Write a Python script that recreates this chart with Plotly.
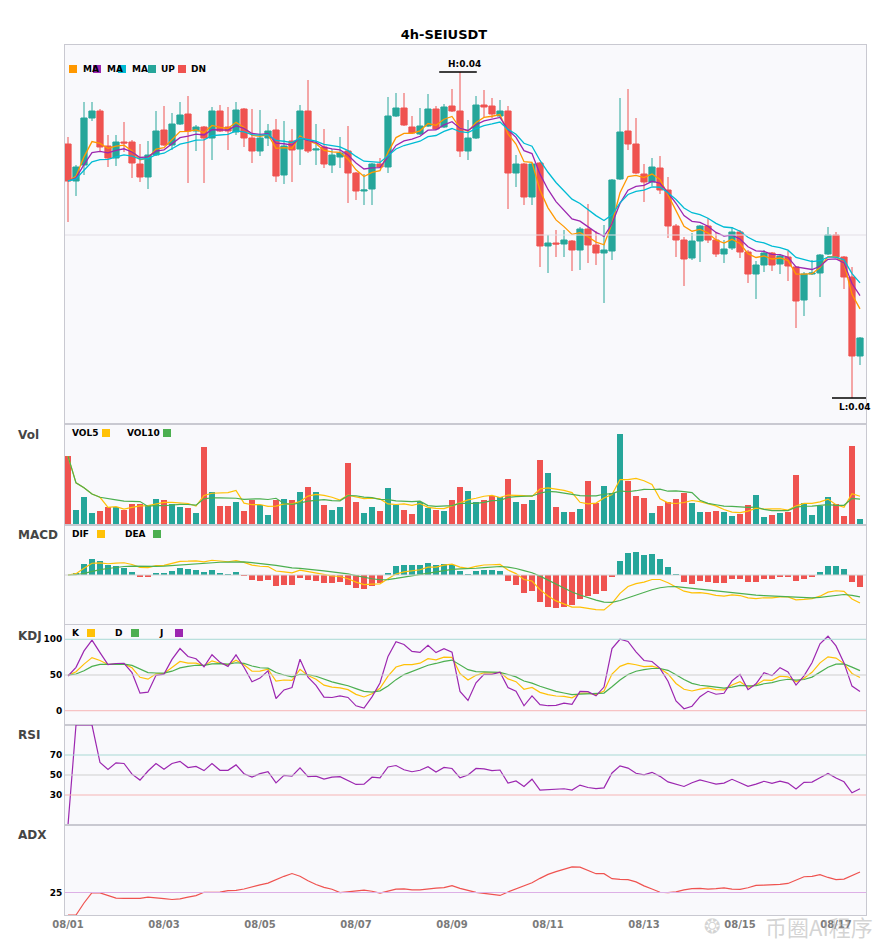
import numpy as np
import pandas as pd
import plotly.graph_objects as go
from plotly.subplots import make_subplots

symbol = "SEIUSDT"
interval = "4h"
start_time = "2024-08-01 00:00"

open_ = [0.04182, 0.04108, 0.04140, 0.04234, 0.04248, 0.04178, 0.04154, 0.04186, 0.04186, 0.04142,
         0.04116, 0.04160, 0.04210, 0.04180, 0.04222, 0.04242, 0.04208, 0.04216, 0.04194, 0.04248,
         0.04216, 0.04206, 0.04252, 0.04194, 0.04168, 0.04194, 0.04210, 0.04120, 0.04188, 0.04172,
         0.04248, 0.04170, 0.04176, 0.04140, 0.04156, 0.04168, 0.04124, 0.04088, 0.04092, 0.04142,
         0.04136, 0.04238, 0.04254, 0.04216, 0.04202, 0.04218, 0.04252, 0.04216, 0.04258, 0.04248,
         0.04168, 0.04194, 0.04260, 0.04258, 0.04238, 0.04248, 0.04124, 0.04142, 0.04076, 0.04144,
         0.03978, 0.03984, 0.03982, 0.03988, 0.03970, 0.04012, 0.03980, 0.03964, 0.03968, 0.04112,
         0.04208, 0.04182, 0.04122, 0.04106, 0.04134, 0.04090, 0.04018, 0.03990, 0.03954, 0.03988,
         0.04018, 0.03990, 0.03962, 0.03974, 0.04006, 0.03966, 0.03922, 0.03940, 0.03964, 0.03942,
         0.03956, 0.03936, 0.03870, 0.03922, 0.03924, 0.03962, 0.04000, 0.03956, 0.03916, 0.03758]
high = [0.04196, 0.04140, 0.04266, 0.04266, 0.04252, 0.04200, 0.04200, 0.04226, 0.04190, 0.04182,
        0.04188, 0.04248, 0.04258, 0.04244, 0.04266, 0.04278, 0.04220, 0.04218, 0.04256, 0.04260,
        0.04256, 0.04266, 0.04254, 0.04252, 0.04250, 0.04222, 0.04232, 0.04228, 0.04212, 0.04260,
        0.04310, 0.04222, 0.04212, 0.04172, 0.04196, 0.04218, 0.04126, 0.04122, 0.04144, 0.04154,
        0.04276, 0.04284, 0.04284, 0.04238, 0.04254, 0.04282, 0.04258, 0.04262, 0.04292, 0.04326,
        0.04230, 0.04278, 0.04290, 0.04274, 0.04270, 0.04258, 0.04160, 0.04144, 0.04144, 0.04146,
        0.04000, 0.04010, 0.04010, 0.03990, 0.04016, 0.04062, 0.04008, 0.04020, 0.04112, 0.04274,
        0.04292, 0.04234, 0.04142, 0.04154, 0.04158, 0.04116, 0.04022, 0.03996, 0.04004, 0.04020,
        0.04034, 0.04006, 0.03990, 0.04016, 0.04010, 0.03970, 0.03948, 0.03970, 0.03966, 0.03962,
        0.03968, 0.03938, 0.03926, 0.03950, 0.03962, 0.04016, 0.04006, 0.03958, 0.03936, 0.03796]
low = [0.04026, 0.04078, 0.04120, 0.04228, 0.04168, 0.04136, 0.04138, 0.04166, 0.04114, 0.04106,
       0.04092, 0.04158, 0.04178, 0.04170, 0.04220, 0.04104, 0.04168, 0.04104, 0.04150, 0.04206,
       0.04170, 0.04200, 0.04176, 0.04144, 0.04158, 0.04178, 0.04106, 0.04102, 0.04106, 0.04140,
       0.04164, 0.04140, 0.04134, 0.04124, 0.04134, 0.04064, 0.04070, 0.04060, 0.04060, 0.04134,
       0.04124, 0.04236, 0.04218, 0.04202, 0.04200, 0.04216, 0.04210, 0.04214, 0.04246, 0.04156,
       0.04150, 0.04192, 0.04236, 0.04234, 0.04234, 0.04052, 0.04096, 0.04060, 0.04060, 0.03936,
       0.03924, 0.03956, 0.03956, 0.03928, 0.03930, 0.03944, 0.03940, 0.03864, 0.03950, 0.04110,
       0.04170, 0.04122, 0.04066, 0.04098, 0.04082, 0.03994, 0.03956, 0.03898, 0.03950, 0.03946,
       0.03984, 0.03956, 0.03944, 0.03970, 0.03954, 0.03904, 0.03872, 0.03926, 0.03928, 0.03922,
       0.03908, 0.03814, 0.03838, 0.03920, 0.03876, 0.03960, 0.03954, 0.03892, 0.03674, 0.03740]
close = [0.04108, 0.04136, 0.04234, 0.04248, 0.04176, 0.04154, 0.04186, 0.04184, 0.04144, 0.04116,
         0.04160, 0.04208, 0.04180, 0.04222, 0.04240, 0.04208, 0.04216, 0.04194, 0.04248, 0.04208,
         0.04208, 0.04250, 0.04194, 0.04168, 0.04194, 0.04208, 0.04118, 0.04178, 0.04170, 0.04248,
         0.04168, 0.04172, 0.04142, 0.04160, 0.04164, 0.04124, 0.04088, 0.04090, 0.04142, 0.04136,
         0.04238, 0.04254, 0.04220, 0.04204, 0.04218, 0.04252, 0.04212, 0.04256, 0.04248, 0.04168,
         0.04194, 0.04260, 0.04256, 0.04242, 0.04248, 0.04124, 0.04142, 0.04076, 0.04142, 0.03978,
         0.03984, 0.03982, 0.03990, 0.03970, 0.04012, 0.03980, 0.03964, 0.03970, 0.04110, 0.04206,
         0.04182, 0.04124, 0.04106, 0.04136, 0.04090, 0.04018, 0.03990, 0.03952, 0.03988, 0.04018,
         0.03990, 0.03962, 0.03972, 0.04006, 0.03966, 0.03922, 0.03940, 0.03964, 0.03940, 0.03958,
         0.03938, 0.03868, 0.03922, 0.03924, 0.03960, 0.04000, 0.03956, 0.03916, 0.03758, 0.03794]
# volume in thousands
volume_k = [205, 46, 82, 37, 43, 55, 55, 46, 64, 64,
            61, 76, 73, 64, 55, 52, 37, 232, 97, 58,
            58, 70, 43, 73, 61, 31, 73, 76, 73, 97,
            112, 97, 61, 46, 55, 184, 70, 37, 55, 43,
            109, 61, 46, 34, 70, 52, 46, 43, 73, 112,
            100, 70, 73, 85, 82, 136, 70, 64, 73, 193,
            154, 55, 40, 40, 49, 130, 67, 115, 94, 271,
            130, 85, 79, 37, 58, 70, 76, 94, 67, 40,
            40, 43, 40, 28, 34, 61, 88, 25, 31, 37,
            40, 148, 67, 31, 58, 82, 64, 28, 235, 19]

UP = "#26a69a"
DN = "#ef5350"
C_MA = ["#ff9800", "#9c27b0", "#00bcd4"]
YEL = "#ffc107"
GRN = "#4caf50"
PUR = "#9c27b0"
FRAME = "#c9c9d1"

df = pd.DataFrame({"open": open_, "high": high, "low": low, "close": close, "volume": volume_k},
                  index=pd.date_range(start_time, periods=len(close), freq="4h"))
t = df.index
c = df["close"]
step = pd.Timedelta(hours=4)

# ---- indicators
mas = [c.ewm(span=n, adjust=False).mean() for n in (5, 8, 13)]
vol5 = df["volume"].rolling(5, min_periods=1).mean()
vol10 = df["volume"].rolling(10, min_periods=1).mean()

dif = c.ewm(span=12, adjust=False).mean() - c.ewm(span=26, adjust=False).mean()
dea = dif.ewm(span=9, adjust=False).mean()
macd = 2 * (dif - dea)

low9 = df["low"].rolling(9, min_periods=1).min()
high9 = df["high"].rolling(9, min_periods=1).max()
rsv = (c - low9) / (high9 - low9) * 100
k_list, d_list = [], []
k_prev = d_prev = 50.0
for r in rsv:
    k_prev = 2 / 3 * k_prev + r / 3
    d_prev = 2 / 3 * d_prev + k_prev / 3
    k_list.append(k_prev)
    d_list.append(d_prev)
kk = pd.Series(k_list, index=t)
dd = pd.Series(d_list, index=t)
jj = 3 * kk - 2 * dd

delta = c.diff()
gain = delta.clip(lower=0).ewm(alpha=1 / 14, adjust=True).mean()
loss = (-delta.clip(upper=0)).ewm(alpha=1 / 14, adjust=True).mean()
rsi = (100 * gain / (gain + loss)).fillna(0)

up_move = df["high"].diff()
down_move = -df["low"].diff()
plus_dm = pd.Series(np.where((up_move > down_move) & (up_move > 0), up_move, 0.0), index=t)
minus_dm = pd.Series(np.where((down_move > up_move) & (down_move > 0), down_move, 0.0), index=t)
tr = pd.concat([df["high"] - df["low"],
                (df["high"] - c.shift()).abs(),
                (df["low"] - c.shift()).abs()], axis=1).max(axis=1)
atr = tr.ewm(span=14, adjust=False).mean()
pdi = 100 * plus_dm.ewm(span=14, adjust=False).mean() / atr
mdi = 100 * minus_dm.ewm(span=14, adjust=False).mean() / atr
dx = ((pdi - mdi).abs() / (pdi + mdi) * 100).fillna(0)
adx = dx.ewm(span=14, adjust=False).mean()

bar_col = [UP if cl >= op else DN for op, cl in zip(df["open"], df["close"])]
macd_col = [UP if v >= 0 else DN for v in macd]
bar_w = step.total_seconds() * 1000 * 0.75

# ---- figure
fig = make_subplots(rows=6, cols=1, shared_xaxes=True, vertical_spacing=0,
                    row_heights=[379, 101, 100, 100, 100, 90])

fig.add_trace(go.Candlestick(
    x=t, open=df["open"], high=df["high"], low=df["low"], close=df["close"],
    increasing=dict(line=dict(color=UP, width=1), fillcolor=UP),
    decreasing=dict(line=dict(color=DN, width=1), fillcolor=DN),
    whiskerwidth=0, hoverinfo="skip"), row=1, col=1)
for s, col in zip(mas, C_MA):
    fig.add_trace(go.Scatter(x=t, y=s, mode="lines", line=dict(color=col, width=1.3)), row=1, col=1)

fig.add_trace(go.Bar(x=t, y=df["volume"], marker=dict(color=bar_col, line_width=0), width=bar_w), row=2, col=1)
fig.add_trace(go.Scatter(x=t, y=vol5, mode="lines", line=dict(color=YEL, width=1.2)), row=2, col=1)
fig.add_trace(go.Scatter(x=t, y=vol10, mode="lines", line=dict(color=GRN, width=1.2)), row=2, col=1)

fig.add_trace(go.Bar(x=t, y=macd, marker=dict(color=macd_col, line_width=0), width=bar_w), row=3, col=1)
fig.add_trace(go.Scatter(x=t, y=dif, mode="lines", line=dict(color=YEL, width=1.2)), row=3, col=1)
fig.add_trace(go.Scatter(x=t, y=dea, mode="lines", line=dict(color=GRN, width=1.2)), row=3, col=1)

fig.add_trace(go.Scatter(x=t, y=kk, mode="lines", line=dict(color=YEL, width=1.2)), row=4, col=1)
fig.add_trace(go.Scatter(x=t, y=dd, mode="lines", line=dict(color=GRN, width=1.2)), row=4, col=1)
fig.add_trace(go.Scatter(x=t, y=jj, mode="lines", line=dict(color=PUR, width=1.2)), row=4, col=1)

fig.add_trace(go.Scatter(x=t, y=rsi, mode="lines", line=dict(color=PUR, width=1.2)), row=5, col=1)
fig.add_trace(go.Scatter(x=t, y=adx, mode="lines", line=dict(color=DN, width=1.2)), row=6, col=1)

# reference lines
fig.add_hline(y=0.04, line=dict(color="#e3dfe6", width=1), row=1, col=1)
fig.add_hline(y=0, line=dict(color="#d6d6d6", width=1), row=3, col=1)
for row, lv in ((4, (100, 50, 0)), (5, (70, 50, 30))):
    for v, lc in zip(lv, ("#a9d9d4", "#cfcfcf", "#f6b5b5")):
        fig.add_hline(y=v, line=dict(color=lc, width=1), row=row, col=1)
fig.add_hline(y=25, line=dict(color="#ddb0e6", width=1), row=6, col=1)

# high / low markers
hi_i = int(np.argmax(df["high"].values))
lo_i = int(np.argmin(df["low"].values))
hi_v, lo_v = df["high"].iloc[hi_i], df["low"].iloc[lo_i]
fig.add_shape(type="line", xref="x", yref="y", x0=t[hi_i] - 2.6 * step, x1=t[hi_i] + 2.1 * step,
              y0=hi_v, y1=hi_v, line=dict(color="black", width=1.5))
fig.add_shape(type="line", xref="x", yref="y", x0=t[lo_i] - 2.5 * step, x1=t[lo_i] + 2.0 * step,
              y0=lo_v, y1=lo_v, line=dict(color="black", width=1.5))
fig.add_annotation(x=t[hi_i] + 0.5 * step, y=hi_v, xref="x", yref="y", text=f"H:{hi_v:.2f}",
                   showarrow=False, yanchor="bottom", yshift=1, font=dict(size=9, color="black", weight="bold"))
fig.add_annotation(x=t[lo_i] + 0.4 * step, y=lo_v, xref="x", yref="y", text=f"L:{lo_v:.2f}",
                   showarrow=False, yanchor="top", yshift=-2, font=dict(size=9, color="black", weight="bold"))

# page offset of the browser (body margin) is taken out of the plotly margins
PAGE = 8


def px(x):
    return (x - 65) / 801


def py(y):
    return (915 - y) / 870


# panel titles
for name, yy in (("Vol", 435), ("MACD", 535), ("KDJ", 636), ("RSI", 735), ("ADX", 835)):
    fig.add_annotation(x=px(16), y=py(yy), xref="paper", yref="paper", text=name, showarrow=False,
                       xanchor="left", yanchor="middle", font=dict(size=12, color="#454545", weight="bold"))

# legends (text + colour chips)
legends = [
    (69, [("MA", 81, 73, C_MA[0]), ("MA", 105, 97, C_MA[1]), ("MA", 130, 122, C_MA[2]),
          ("UP", 159, 152, UP), ("DN", 189, 182, DN)]),
    (433, [("VOL5", 70, 106, YEL), ("VOL10", 125, 167, GRN)]),
    (534, [("DIF", 70, 101, YEL), ("DEA", 123, 157, GRN)]),
    (633, [("K", 70, 91, YEL), ("D", 113, 135, GRN), ("J", 157, 179, PUR)]),
]
for yy, items in legends:
    for txt, tx, sx, col in items:
        fig.add_annotation(x=px(tx), y=py(yy), xref="paper", yref="paper", text=txt, showarrow=False,
                           xanchor="left", yanchor="middle", font=dict(size=9, color="black", weight="bold"))
        fig.add_shape(type="rect", xref="paper", yref="paper", x0=px(sx - 4), x1=px(sx + 4),
                      y0=py(yy + 4), y1=py(yy - 4), fillcolor=col, line_width=0, layer="above")

# watermark
fig.add_annotation(x=px(712), y=py(926), xref="paper", yref="paper", text="❂",
                   showarrow=False, xanchor="center", yanchor="middle",
                   font=dict(size=20, color="rgba(170,170,170,0.5)"))
fig.add_annotation(x=px(819), y=py(926), xref="paper", yref="paper", text="币圈AI程序",
                   showarrow=False, xanchor="center", yanchor="middle",
                   font=dict(size=22, color="rgba(170,170,170,0.5)", family="Noto Sans CJK SC"))

m = float(dif.abs().max())
fig.update_layout(
    width=885, height=950,
    margin=dict(l=65 - PAGE, r=885 - 866 + PAGE, t=45 - PAGE, b=950 - 915 + PAGE),
    paper_bgcolor="white", plot_bgcolor="#f9f9fc",
    font=dict(family="DejaVu Sans", size=10, color="#333"),
    title=dict(text=f"{interval}-{symbol}", x=(444 - PAGE) / 885, xanchor="center",
               y=1 - (34 - PAGE) / 950, yanchor="middle",
               font=dict(size=13, color="black", weight="bold")),
    showlegend=False, hovermode=False, bargap=0, boxgap=0.12, boxgroupgap=0.12,
)
fig.update_xaxes(range=[t[0] - 0.375 * step, t[-1] + 0.75 * step], showgrid=False, zeroline=False,
                 showline=True, mirror=True, linecolor=FRAME, linewidth=1, ticks="",
                 showticklabels=False, rangeslider_visible=False, automargin=False)
fig.update_xaxes(showticklabels=True, tickformat="%m/%d", tick0=t[0], dtick=2 * 86400000,
                 tickfont=dict(size=10, color="#7a7a7a", weight="bold"), row=6, col=1)
fig.update_yaxes(showgrid=False, zeroline=False, showline=True, mirror=True, linecolor=FRAME,
                 linewidth=1, ticks="", showticklabels=False, automargin=False,
                 tickfont=dict(size=9, color="black", weight="bold"))
fig.update_yaxes(range=[0.03622, 0.0438], row=1, col=1)
fig.update_yaxes(range=[0, max(volume_k) * 1.11], row=2, col=1)
fig.update_yaxes(range=[-1.43 * m, 1.43 * m], row=3, col=1)
fig.update_yaxes(range=[-20, 120], showticklabels=True, tickvals=[0, 50, 100], row=4, col=1)
fig.update_yaxes(range=[0, 100], showticklabels=True, tickvals=[30, 50, 70], row=5, col=1)
fig.update_yaxes(range=[0, 100], showticklabels=True, tickvals=[25], row=6, col=1)

fig.write_html("out.html")
